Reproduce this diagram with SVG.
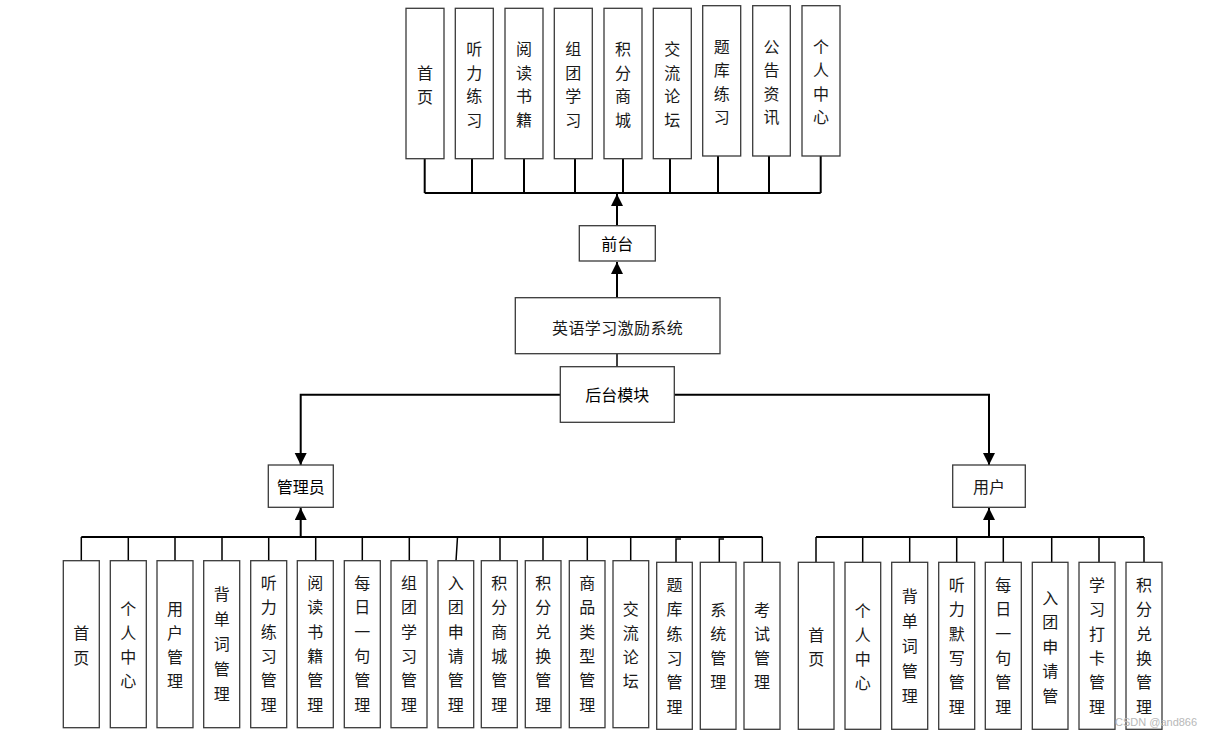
<svg xmlns="http://www.w3.org/2000/svg" width="1213" height="736" viewBox="0 0 1213 736">
<style>
.box{fill:#fff;stroke:#3a3a3a;stroke-width:1.3}
.t{font-family:"Noto Sans CJK SC","Noto Sans",sans-serif;font-size:16px;fill:#1a1a1a;text-anchor:middle;dominant-baseline:central}
.tb{font-family:"Noto Sans CJK SC","Noto Sans",sans-serif;font-size:16px;fill:#000;text-anchor:middle;dominant-baseline:central}
.ln{fill:none;stroke:#000;stroke-width:2}
.lt{fill:none;stroke:#000;stroke-width:1.5}
.wm{font-family:"Liberation Sans",Arial,sans-serif;font-size:11px;fill:#b8b8b8}
</style>
<defs>
<marker id="ah" markerUnits="userSpaceOnUse" markerWidth="12" markerHeight="14" viewBox="0 0 12 14" refX="12" refY="6" orient="auto">
<path d="M0,0 L12,6 L0,12 z" fill="#000"/>
</marker>
</defs>
<rect width="1213" height="736" fill="#fff"/>

<g id="connectors">
<!-- top bus -->
<path class="ln" d="M424.7,193 H820.7"/>
<path class="ln" d="M424.7,159 V193 M472,159 V193 M524,159 V193 M575,159 V193 M623,159 V193 M670,159 V193 M718,156 V193 M769,156 V193 M820.7,156 V193"/>
<line class="ln" x1="617" y1="226" x2="617" y2="194" marker-end="url(#ah)"/>
<line class="ln" x1="617" y1="298" x2="617" y2="262" marker-end="url(#ah)"/>
<line class="lt" x1="617" y1="354" x2="617" y2="367"/>
<path class="ln" d="M560,394.7 H300.7 V465" marker-end="url(#ah)"/>
<path class="ln" d="M674,394.7 H989 V465" marker-end="url(#ah)"/>
<line class="ln" x1="300.7" y1="537" x2="300.7" y2="508" marker-end="url(#ah)"/>
<line class="ln" x1="989" y1="537" x2="989" y2="508" marker-end="url(#ah)"/>
<!-- bottom left bus -->
<path class="ln" d="M81.3,537 H762.3"/>
<path class="lt" d="M81.3,537 V561 M128.3,537 V561 M175,537 V561 M222,537 V561 M268.7,537 V561 M315.7,537 V561 M362.3,537 V561 M409.3,537 V561 M457.5,537 L456,561 M500,537 V561 M543,537 V561 M587.3,537 V561 M630.7,537 V561 M676,562 V539 H681 M719.3,562 V539 H724 M762.3,537 V562"/>
<!-- bottom right bus -->
<path class="ln" d="M816,537 H1144"/>
<path class="lt" d="M816,537 V562 M862.7,537 V562 M909.7,537 V562 M956.7,537 V562 M1003.3,537 V562 M1051.7,537 V562 M1099,537 V562 M1144,537 V562"/>
</g>

<!-- top row -->
<g id="f1"><rect class="box" x="406" y="8.3" width="38" height="150.4"/><text class="t" x="425"><tspan x="425" y="71.5">首</tspan><tspan x="425" y="95.5">页</tspan></text></g>
<g id="f2"><rect class="box" x="455.3" y="8.3" width="38" height="150.4"/><text class="t"><tspan x="474.3" y="48">听</tspan><tspan x="474.3" y="71.5">力</tspan><tspan x="474.3" y="95">练</tspan><tspan x="474.3" y="118.5">习</tspan></text></g>
<g id="f3"><rect class="box" x="505" y="8.3" width="38" height="150.4"/><text class="t"><tspan x="524" y="48">阅</tspan><tspan x="524" y="71.5">读</tspan><tspan x="524" y="95">书</tspan><tspan x="524" y="118.5">籍</tspan></text></g>
<g id="f4"><rect class="box" x="554.3" y="8.3" width="38" height="150.4"/><text class="t"><tspan x="573.3" y="48">组</tspan><tspan x="573.3" y="71.5">团</tspan><tspan x="573.3" y="95">学</tspan><tspan x="573.3" y="118.5">习</tspan></text></g>
<g id="f5"><rect class="box" x="604" y="8.3" width="38" height="150.4"/><text class="t"><tspan x="623" y="48">积</tspan><tspan x="623" y="71.5">分</tspan><tspan x="623" y="95">商</tspan><tspan x="623" y="118.5">城</tspan></text></g>
<g id="f6"><rect class="box" x="653.3" y="8.3" width="38" height="150.4"/><text class="t"><tspan x="672.3" y="48">交</tspan><tspan x="672.3" y="71.5">流</tspan><tspan x="672.3" y="95">论</tspan><tspan x="672.3" y="118.5">坛</tspan></text></g>
<g id="f7"><rect class="box" x="702.7" y="5.7" width="38" height="150.3"/><text class="t"><tspan x="721.7" y="45.5">题</tspan><tspan x="721.7" y="69">库</tspan><tspan x="721.7" y="92.5">练</tspan><tspan x="721.7" y="116">习</tspan></text></g>
<g id="f8"><rect class="box" x="752.7" y="5.7" width="37.6" height="150.3"/><text class="t"><tspan x="771.5" y="45.5">公</tspan><tspan x="771.5" y="69">告</tspan><tspan x="771.5" y="92.5">资</tspan><tspan x="771.5" y="116">讯</tspan></text></g>
<g id="f9"><rect class="box" x="802" y="5.7" width="38" height="150.3"/><text class="t"><tspan x="821" y="45.5">个</tspan><tspan x="821" y="69">人</tspan><tspan x="821" y="92.5">中</tspan><tspan x="821" y="116">心</tspan></text></g>

<!-- middle -->
<g id="qiantai"><rect class="box" x="579.3" y="225.7" width="76" height="35.3"/><text class="tb" x="617.3" y="243.3">前台</text></g>
<g id="system"><rect class="box" x="515.3" y="297.7" width="204.7" height="56"/><text class="t" x="617.6" y="326.5" letter-spacing="0.4">英语学习激励系统</text></g>
<g id="houtai"><rect class="box" x="560.3" y="366.7" width="114" height="55.6"/><text class="tb" x="617.3" y="394">后台模块</text></g>
<g id="admin"><rect class="box" x="268.3" y="465" width="65" height="42.3"/><text class="tb" x="300.8" y="486">管理员</text></g>
<g id="user"><rect class="box" x="952.7" y="465" width="72.6" height="42.3"/><text class="t" x="989" y="486">用户</text></g>

<!-- bottom left -->
<g id="a1"><rect class="box" x="63.3" y="560.7" width="36" height="167"/><text class="t"><tspan x="81.3" y="632">首</tspan><tspan x="81.3" y="656.5">页</tspan></text></g>
<g id="a2"><rect class="box" x="110.3" y="560.7" width="36" height="167"/><text class="t"><tspan x="128.3" y="607.5">个</tspan><tspan x="128.3" y="631.5">人</tspan><tspan x="128.3" y="655.5">中</tspan><tspan x="128.3" y="679.5">心</tspan></text></g>
<g id="a3"><rect class="box" x="157" y="560.7" width="36" height="167"/><text class="t"><tspan x="175" y="607.5">用</tspan><tspan x="175" y="631.5">户</tspan><tspan x="175" y="655.5">管</tspan><tspan x="175" y="679.5">理</tspan></text></g>
<g id="a4"><rect class="box" x="203.7" y="560.7" width="36" height="167"/><text class="t"><tspan x="221.7" y="593">背</tspan><tspan x="221.7" y="618">单</tspan><tspan x="221.7" y="643">词</tspan><tspan x="221.7" y="668">管</tspan><tspan x="221.7" y="693">理</tspan></text></g>
<g id="a5"><rect class="box" x="250.7" y="560.7" width="36" height="167"/><text class="t"><tspan x="268.7" y="582">听</tspan><tspan x="268.7" y="606.3">力</tspan><tspan x="268.7" y="630.6">练</tspan><tspan x="268.7" y="654.9">习</tspan><tspan x="268.7" y="679.2">管</tspan><tspan x="268.7" y="703.5">理</tspan></text></g>
<g id="a6"><rect class="box" x="297.3" y="560.7" width="36" height="167"/><text class="t"><tspan x="315.3" y="582">阅</tspan><tspan x="315.3" y="606.3">读</tspan><tspan x="315.3" y="630.6">书</tspan><tspan x="315.3" y="654.9">籍</tspan><tspan x="315.3" y="679.2">管</tspan><tspan x="315.3" y="703.5">理</tspan></text></g>
<g id="a7"><rect class="box" x="344.3" y="560.7" width="36" height="167"/><text class="t"><tspan x="362.3" y="582">每</tspan><tspan x="362.3" y="606.3">日</tspan><tspan x="362.3" y="630.6">一</tspan><tspan x="362.3" y="654.9">句</tspan><tspan x="362.3" y="679.2">管</tspan><tspan x="362.3" y="703.5">理</tspan></text></g>
<g id="a8"><rect class="box" x="391" y="560.7" width="36" height="167"/><text class="t"><tspan x="409" y="582">组</tspan><tspan x="409" y="606.3">团</tspan><tspan x="409" y="630.6">学</tspan><tspan x="409" y="654.9">习</tspan><tspan x="409" y="679.2">管</tspan><tspan x="409" y="703.5">理</tspan></text></g>
<g id="a9"><rect class="box" x="438" y="560.7" width="35.7" height="167"/><text class="t"><tspan x="455.8" y="582">入</tspan><tspan x="455.8" y="606.3">团</tspan><tspan x="455.8" y="630.6">申</tspan><tspan x="455.8" y="654.9">请</tspan><tspan x="455.8" y="679.2">管</tspan><tspan x="455.8" y="703.5">理</tspan></text></g>
<g id="a10"><rect class="box" x="481.3" y="560.7" width="36" height="167"/><text class="t"><tspan x="499.3" y="582">积</tspan><tspan x="499.3" y="606.3">分</tspan><tspan x="499.3" y="630.6">商</tspan><tspan x="499.3" y="654.9">城</tspan><tspan x="499.3" y="679.2">管</tspan><tspan x="499.3" y="703.5">理</tspan></text></g>
<g id="a11"><rect class="box" x="525.3" y="560.7" width="35.7" height="167"/><text class="t"><tspan x="543.2" y="582">积</tspan><tspan x="543.2" y="606.3">分</tspan><tspan x="543.2" y="630.6">兑</tspan><tspan x="543.2" y="654.9">换</tspan><tspan x="543.2" y="679.2">管</tspan><tspan x="543.2" y="703.5">理</tspan></text></g>
<g id="a12"><rect class="box" x="569.3" y="560.7" width="35.7" height="167"/><text class="t"><tspan x="587.2" y="582">商</tspan><tspan x="587.2" y="606.3">品</tspan><tspan x="587.2" y="630.6">类</tspan><tspan x="587.2" y="654.9">型</tspan><tspan x="587.2" y="679.2">管</tspan><tspan x="587.2" y="703.5">理</tspan></text></g>
<g id="a13"><rect class="box" x="613" y="560.7" width="35.7" height="167"/><text class="t"><tspan x="630.8" y="607.5">交</tspan><tspan x="630.8" y="631.5">流</tspan><tspan x="630.8" y="655.5">论</tspan><tspan x="630.8" y="679.5">坛</tspan></text></g>
<g id="a14"><rect class="box" x="656.7" y="562.3" width="35.6" height="167"/><text class="t"><tspan x="674.5" y="584">题</tspan><tspan x="674.5" y="608.3">库</tspan><tspan x="674.5" y="632.6">练</tspan><tspan x="674.5" y="656.9">习</tspan><tspan x="674.5" y="681.2">管</tspan><tspan x="674.5" y="705.5">理</tspan></text></g>
<g id="a15"><rect class="box" x="700.3" y="562.3" width="35.7" height="167"/><text class="t"><tspan x="718.2" y="609">系</tspan><tspan x="718.2" y="633">统</tspan><tspan x="718.2" y="657">管</tspan><tspan x="718.2" y="681">理</tspan></text></g>
<g id="a16"><rect class="box" x="744" y="562.3" width="36" height="167"/><text class="t"><tspan x="762" y="609">考</tspan><tspan x="762" y="633">试</tspan><tspan x="762" y="657">管</tspan><tspan x="762" y="681">理</tspan></text></g>

<!-- bottom right -->
<g id="u1"><rect class="box" x="798.3" y="562.3" width="35.7" height="167"/><text class="t"><tspan x="816.2" y="633.5">首</tspan><tspan x="816.2" y="658">页</tspan></text></g>
<g id="u2"><rect class="box" x="845" y="562.3" width="35.7" height="167"/><text class="t"><tspan x="862.8" y="609.5">个</tspan><tspan x="862.8" y="633.5">人</tspan><tspan x="862.8" y="657.5">中</tspan><tspan x="862.8" y="681.5">心</tspan></text></g>
<g id="u3"><rect class="box" x="891.7" y="562.3" width="36" height="167"/><text class="t"><tspan x="909.7" y="595">背</tspan><tspan x="909.7" y="620">单</tspan><tspan x="909.7" y="645">词</tspan><tspan x="909.7" y="670">管</tspan><tspan x="909.7" y="695">理</tspan></text></g>
<g id="u4"><rect class="box" x="938.7" y="562.3" width="36" height="167"/><text class="t"><tspan x="956.7" y="584">听</tspan><tspan x="956.7" y="608.3">力</tspan><tspan x="956.7" y="632.6">默</tspan><tspan x="956.7" y="656.9">写</tspan><tspan x="956.7" y="681.2">管</tspan><tspan x="956.7" y="705.5">理</tspan></text></g>
<g id="u5"><rect class="box" x="985.3" y="562.3" width="36" height="167"/><text class="t"><tspan x="1003.3" y="584">每</tspan><tspan x="1003.3" y="608.3">日</tspan><tspan x="1003.3" y="632.6">一</tspan><tspan x="1003.3" y="656.9">句</tspan><tspan x="1003.3" y="681.2">管</tspan><tspan x="1003.3" y="705.5">理</tspan></text></g>
<g id="u6"><rect class="box" x="1032.3" y="562.3" width="35.7" height="167"/><text class="t"><tspan x="1050.2" y="596.5">入</tspan><tspan x="1050.2" y="621">团</tspan><tspan x="1050.2" y="645.5">申</tspan><tspan x="1050.2" y="670">请</tspan><tspan x="1050.2" y="694.5">管</tspan></text></g>
<g id="u7"><rect class="box" x="1079" y="562.3" width="36" height="167"/><text class="t"><tspan x="1097" y="584">学</tspan><tspan x="1097" y="608.3">习</tspan><tspan x="1097" y="632.6">打</tspan><tspan x="1097" y="656.9">卡</tspan><tspan x="1097" y="681.2">管</tspan><tspan x="1097" y="705.5">理</tspan></text></g>
<g id="u8"><rect class="box" x="1126" y="562.3" width="36" height="167"/><text class="t"><tspan x="1144" y="584">积</tspan><tspan x="1144" y="608.3">分</tspan><tspan x="1144" y="632.6">兑</tspan><tspan x="1144" y="656.9">换</tspan><tspan x="1144" y="681.2">管</tspan><tspan x="1144" y="705.5">理</tspan></text></g>

<text class="wm" x="1115" y="725.5">CSDN @and866</text>
</svg>
